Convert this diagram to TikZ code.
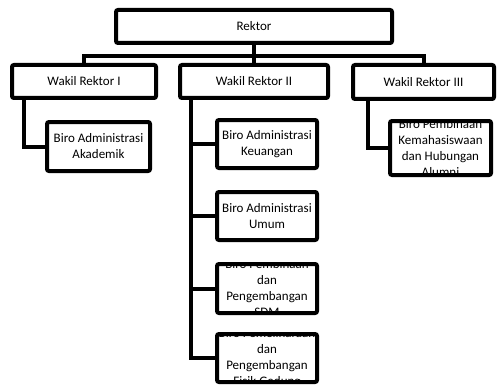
\documentclass[tikz,border=0pt]{standalone}
\usepackage{fontspec}
\setmainfont{Carlito}
\newcommand\cliptext[1]{\node[txt] (t) at (path picture bounding box.center) {#1};}
\begin{document}
\begin{tikzpicture}[x=1pt,y=-1pt,
  txt/.style={inner sep=0pt, align=center, font=\fontsize{13}{16}\selectfont},
  box/.style={draw, line width=4pt, rounded corners=2pt, fill=white, inner sep=0pt,
              align=center, font=\fontsize{13}{16}\selectfont},
  conn/.style={line width=4pt}]
\useasboundingbox (0,0) rectangle (497,385);

\node[box, minimum width=276, minimum height=33] (rektor) at (254,26.5) {Rektor};
\node[box, minimum width=144, minimum height=33] (wr1) at (84,81.5) {Wakil Rektor I};
\node[box, minimum width=148, minimum height=33] (wr2) at (254,81.5) {Wakil Rektor II};
\node[box, minimum width=141, minimum height=34] (wr3) at (423.5,82) {Wakil Rektor III};

\node[box, minimum width=103, minimum height=49] (ak) at (98.5,146.5) {Biro Administrasi\\Akademik};
\node[box, minimum width=100, minimum height=48] (keu) at (267,144) {Biro Administrasi\\Keuangan};
\node[box, minimum width=100, minimum height=48] (umum) at (267,216) {Biro Administrasi\\Umum};
\node[box, minimum width=100, minimum height=49,
  path picture={\cliptext{Biro Pembinaan\\dan\\Pengembangan\\SDM}}] (sdm) at (267,288.5) {};
\node[box, minimum width=100, minimum height=48,
  path picture={\cliptext{Biro Pemeliharaan\\dan\\Pengembangan\\Fisik Gedung}}] (fis) at (267,358) {};
\node[box, minimum width=101, minimum height=54,
  path picture={\cliptext{Biro Pembinaan\\Kemahasiswaan\\dan Hubungan\\Alumni}}] (kem) at (440.5,148) {};

\coordinate (bar) at (254,56);
\draw[conn] (rektor.south) -- (bar);
\draw[conn] (wr1.north) |- (bar) -| (wr3.north);
\draw[conn] (bar) -- (wr2.north);

\draw[conn] ([xshift=14pt]wr1.south west) |- (ak.west);
\draw[conn] ([xshift=13pt]wr2.south west) |- (keu.west);
\draw[conn] ([xshift=13pt]wr2.south west) |- (umum.west);
\draw[conn] ([xshift=13pt]wr2.south west) |- (sdm.west);
\draw[conn] ([xshift=13pt]wr2.south west) |- (fis.west);
\draw[conn] ([xshift=17pt]wr3.south west) |- (kem.west);
\end{tikzpicture}
\end{document}
